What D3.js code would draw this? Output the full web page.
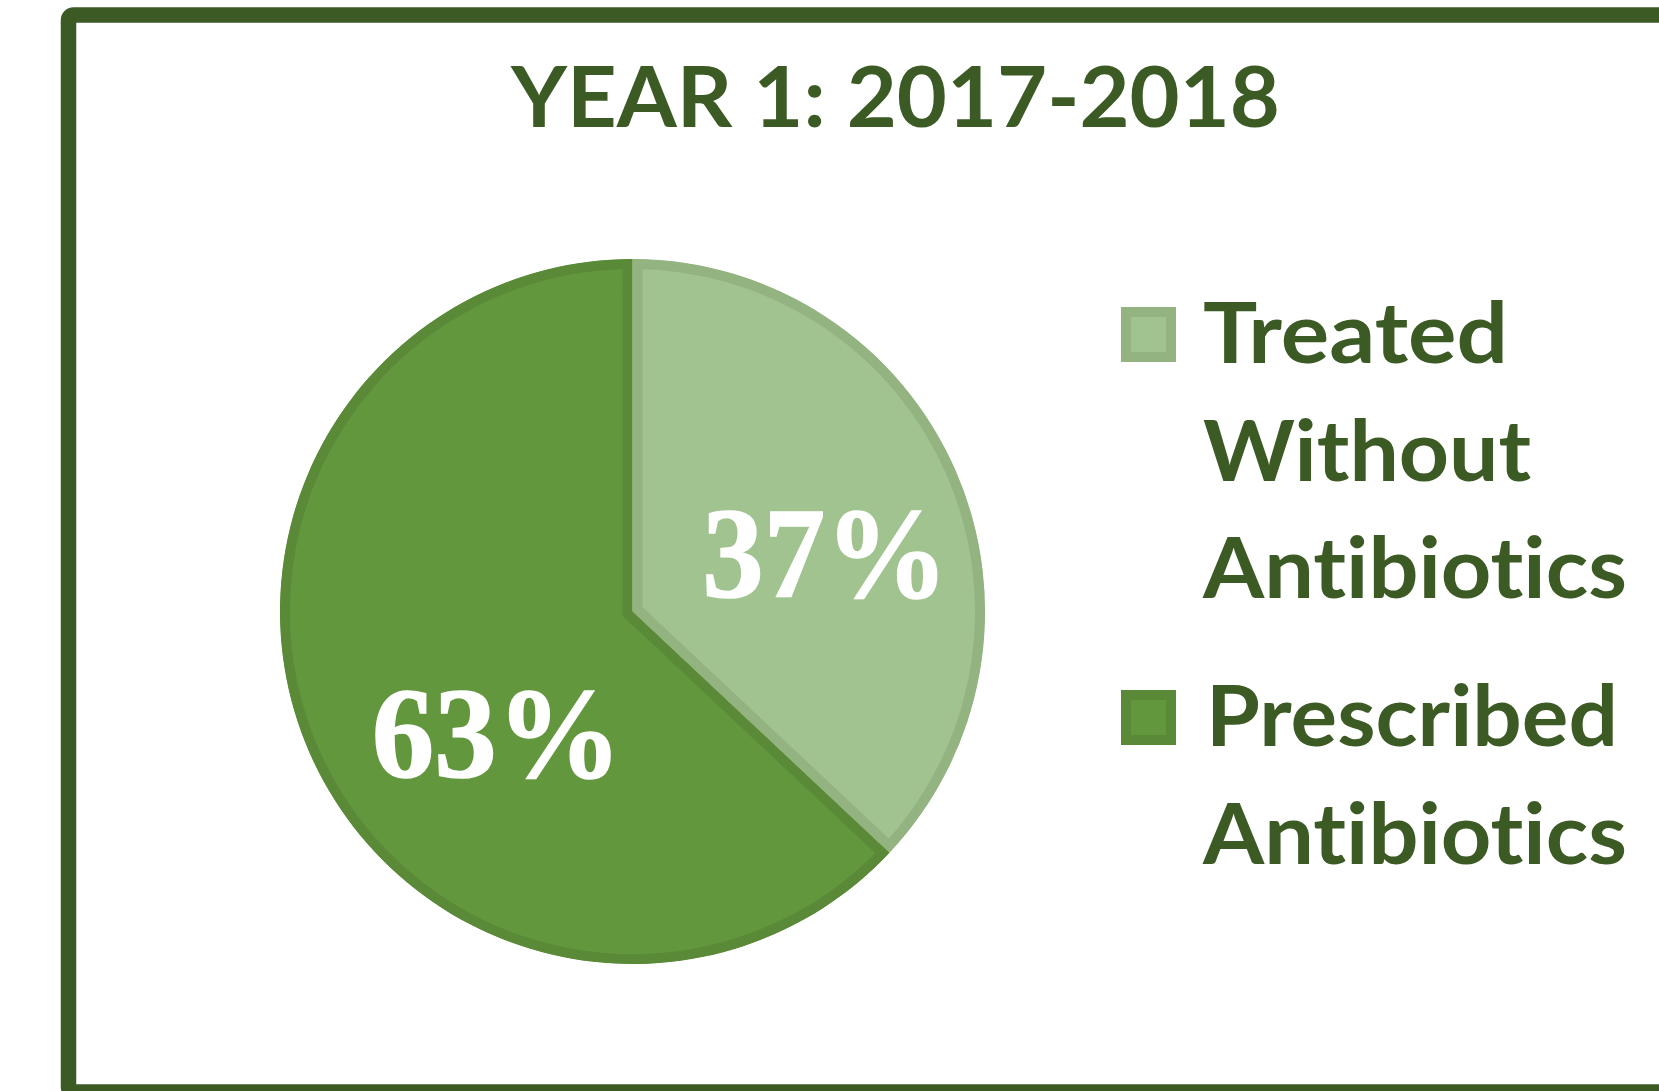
<!DOCTYPE html>
<html>
<head>
<meta charset="utf-8">
<script src="https://cdn.jsdelivr.net/npm/d3@7"></script>
<style>
  html, body { margin: 0; padding: 0; background: #ffffff; overflow: hidden; }
  svg { display: block; }
  text { font-variant-ligatures: none; font-feature-settings: "liga" 0, "clig" 0; }
</style>
</head>
<body>
<svg id="chart" width="1659" height="1091"></svg>
<script>
// Share of visits by treatment outcome, first programme year
const title = "YEAR 1: 2017-2018";
const categories = ["Treated Without Antibiotics", "Prescribed Antibiotics"];
const legendLines = [["Treated", "Without", "Antibiotics"], ["Prescribed", "Antibiotics"]];
const values = [37, 63];
const valueLabels = ["37%", "63%"];

const W = 1659, H = 1091;
const ink = "#3b5a24";
const fills = ["#a1c38f", "#63973e"];
const edges = ["#93b480", "#5a8a37"];

const svg = d3.select("#chart");

// frame
svg.append("rect")
  .attr("x", 68.5).attr("y", 15)
  .attr("width", 1640).attr("height", 1077)
  .attr("rx", 5)
  .attr("fill", "none")
  .attr("stroke", ink)
  .attr("stroke-width", 15.5);

// title
svg.append("text")
  .attr("x", 895.5).attr("y", 127)
  .attr("text-anchor", "middle")
  .attr("font-family", "Lato, 'Open Sans', sans-serif")
  .attr("font-weight", 700)
  .attr("font-size", 85)
  .attr("fill", ink)
  .attr("textLength", 769)
  .attr("lengthAdjust", "spacingAndGlyphs")
  .text(title);

// pie
const cx = 632.5, cy = 611.5, R = 352.5, edgeW = 10;
const pie = d3.pie().sort(null).value(d => d)(values);
const arc = d3.arc().innerRadius(0).outerRadius(R);

const defs = svg.append("defs");
pie.forEach((p, i) => {
  defs.append("clipPath").attr("id", "slice-clip-" + i)
    .append("path").attr("d", arc(p));
});

const g = svg.append("g").attr("transform", `translate(${cx},${cy})`);
g.selectAll("path.slice")
  .data(pie)
  .join("path")
  .attr("class", "slice")
  .attr("d", arc)
  .attr("fill", (d, i) => fills[i])
  .attr("stroke", (d, i) => edges[i])
  .attr("stroke-width", edgeW * 2)
  .attr("stroke-linejoin", "miter")
  .attr("clip-path", (d, i) => `url(#slice-clip-${i})`);

// value labels, placed from each slice's centroid with a small nudge
const nudges = [[31, 12], [26, 52]];
g.selectAll("text.value")
  .data(pie)
  .join("text")
  .attr("class", "value")
  .attr("x", (d, i) => arc.centroid(d)[0] + nudges[i][0])
  .attr("y", (d, i) => arc.centroid(d)[1] + nudges[i][1])
  .attr("dy", "0.34em")
  .attr("text-anchor", "middle")
  .attr("font-family", "Liberation Serif, Times New Roman, serif")
  .attr("font-weight", "bold")
  .attr("font-size", 129)
  .attr("fill", "#ffffff")
  .attr("stroke", "#ffffff")
  .attr("stroke-width", 1.5)
  .attr("textLength", (d, i) => [246, 250][i])
  .attr("lengthAdjust", "spacingAndGlyphs")
  .text((d, i) => valueLabels[i]);

// legend
const legendX = 1121, swatch = 55, textX = 1203, lineH = 117.5;
const blockTops = [363, 746];   // first-line baselines
const lineWidths = [[305, 328, 424], [412, 424]];

categories.forEach((c, i) => {
  const lg = svg.append("g").attr("class", "legend-item");
  const sy = blockTops[i] - 56;
  lg.append("rect")
    .attr("x", legendX + edgeW / 2).attr("y", sy + edgeW / 2)
    .attr("width", swatch - edgeW).attr("height", swatch - edgeW)
    .attr("fill", fills[i])
    .attr("stroke", edges[i])
    .attr("stroke-width", edgeW);
  legendLines[i].forEach((line, j) => {
    lg.append("text")
      .attr("x", textX + (j === 0 && i === 1 ? 3 : 0))
      .attr("y", blockTops[i] + j * lineH)
      .attr("font-family", "Lato, 'Open Sans', sans-serif")
      .attr("font-weight", 700)
      .attr("font-size", 85)
      .attr("fill", ink)
      .attr("textLength", lineWidths[i][j])
      .attr("lengthAdjust", "spacingAndGlyphs")
      .text(line);
  });
});
</script>
</body>
</html>
